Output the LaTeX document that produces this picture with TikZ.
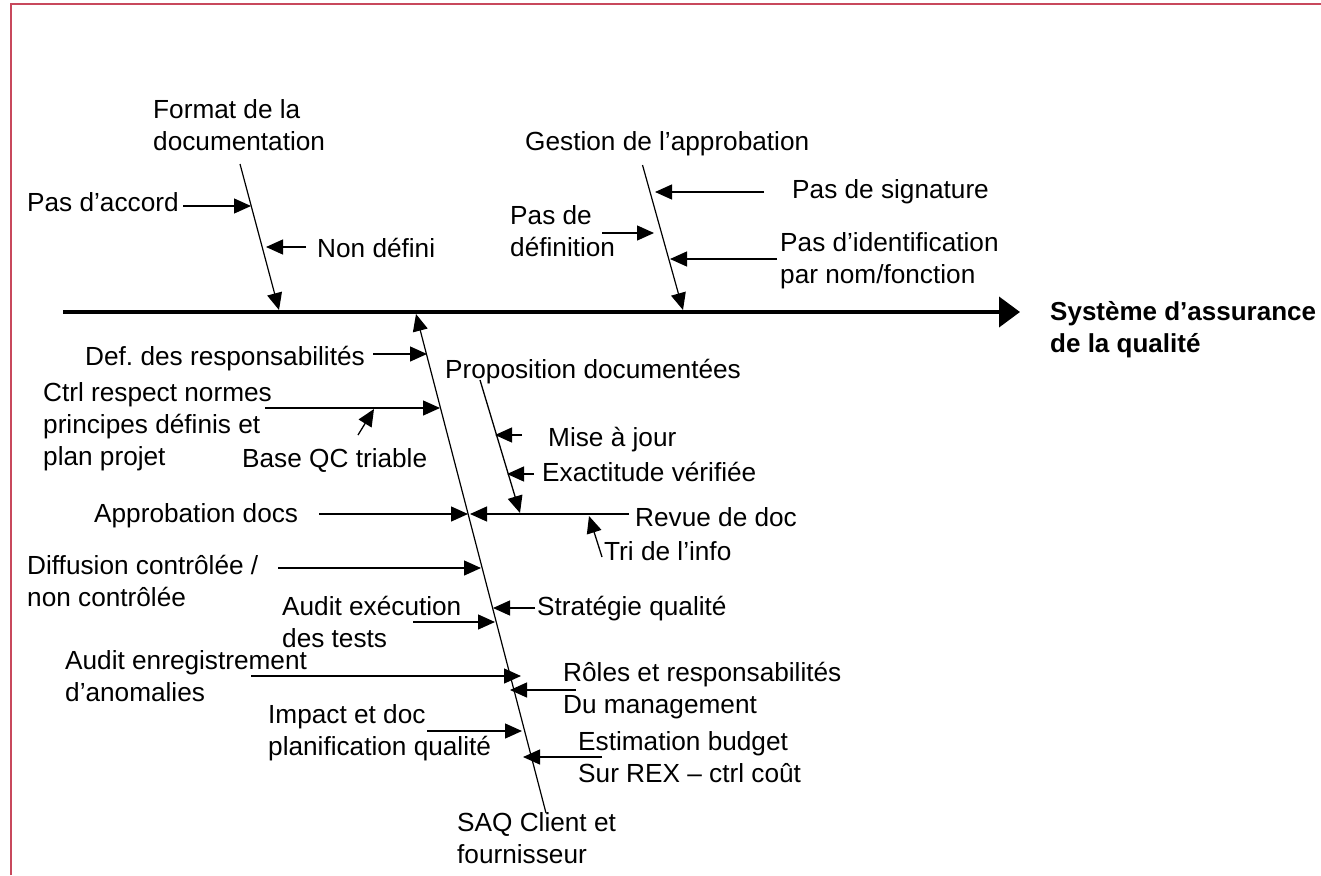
\documentclass[tikz,border=0pt]{standalone}
\usepackage{fontspec}
\setmainfont{Liberation Sans}
\usetikzlibrary{arrows.meta}
\definecolor{framered}{RGB}{200,72,92}
\frenchspacing
\tikzset{
  lbl/.style={anchor=base west, inner sep=0pt, align=left, font=\fontsize{26.2}{32}\selectfont},
  ttl/.style={anchor=base west, inner sep=0pt, align=left, font=\fontsize{26}{32}\selectfont\bfseries},
  bonearr/.style={line width=1.2pt, -{Triangle[length=17pt,width=15pt]}},
  cause/.style={line width=1.3pt, -{Triangle[length=17pt,width=15pt]}},
  spineline/.style={line width=4pt, -{Triangle[length=21pt,width=30pt]}},
}
\begin{document}
% multi-line labels are placed by the baseline of their last line
\begin{tikzpicture}[x=1pt,y=-1pt]
\useasboundingbox (0,0) rectangle (1321,875);
\fill[white] (0,0) rectangle (1321,875);
% frame
\draw[framered, line width=2pt] (10.7,875) -- (10.7,4.3) -- (1321,4.3);

% spine
\coordinate (spineL) at (63,312);
\coordinate (spineR) at (1020,312);
\draw[spineline] (spineL) -- (spineR);
\node[ttl] (effect) at (1050,352) {Système d’assurance\\de la qualité};

% bone A : format de la documentation
\node[lbl] (fmt) at (153,150) {Format de la\\documentation};
\coordinate (A1) at (240,164);
\coordinate (A2) at (279,310);
\draw[bonearr] (A1) -- (A2);
\node[lbl] (accord) at (27,211) {Pas d’accord};
\coordinate (accS) at (183,206); \coordinate (accE) at (251,206);
\draw[cause] (accS) -- (accE);
\node[lbl] (nondef) at (317,257) {Non défini};
\coordinate (ndS) at (306,247); \coordinate (ndE) at (266,247);
\draw[cause] (ndS) -- (ndE);

% bone B : gestion de l'approbation
\node[lbl] (gest) at (525,150) {Gestion de l’approbation};
\coordinate (B1) at (642.5,165);
\coordinate (B2) at (683,310);
\draw[bonearr] (B1) -- (B2);
\node[lbl] (sign) at (792,198) {Pas de signature};
\coordinate (sgS) at (764,192); \coordinate (sgE) at (655,192);
\draw[cause] (sgS) -- (sgE);
\node[lbl] (pdef) at (510,256) {Pas de\\définition};
\coordinate (pdS) at (602,233); \coordinate (pdE) at (654,233);
\draw[cause] (pdS) -- (pdE);
\node[lbl] (ident) at (780,283) {Pas d’identification\\par nom/fonction};
\coordinate (idS) at (777,259); \coordinate (idE) at (670,259);
\draw[cause] (idS) -- (idE);

% bottom bone : SAQ client et fournisseur
\node[lbl] (saq) at (457,863) {SAQ Client et\\fournisseur};
\coordinate (C1) at (546,813);
\coordinate (C2) at (416,314);
\draw[bonearr] (C1) -- (C2);

\node[lbl] (defresp) at (85,365) {Def. des responsabilités};
\coordinate (drS) at (373,354); \coordinate (drE) at (427,354);
\draw[cause] (drS) -- (drE);

\node[lbl] (ctrl) at (43,465) {Ctrl respect normes\\principes définis et\\plan projet};
\coordinate (ctS) at (265,408); \coordinate (ctE) at (440,408);
\draw[cause] (ctS) -- (ctE);
\node[lbl] (baseqc) at (242,467) {Base QC triable};
\coordinate (bqS) at (358,435); \coordinate (bqE) at (374,409);
\draw[cause] (bqS) -- (bqE);

\node[lbl] (approb) at (94,522) {Approbation docs};
\coordinate (apS) at (319,514); \coordinate (apE) at (468,514);
\draw[cause] (apS) -- (apE);

% sub-bone : revue de doc
\node[lbl] (revue) at (635,526) {Revue de doc};
\coordinate (rvS) at (629,514); \coordinate (rvE) at (470,514);
\draw[cause] (rvS) -- (rvE);
\node[lbl] (propo) at (445,378) {Proposition documentées};
\coordinate (ppS) at (480,380); \coordinate (ppE) at (520,513);
\draw[cause] (ppS) -- (ppE);
\node[lbl] (maj) at (548,446) {Mise à jour};
\coordinate (mjS) at (522,435); \coordinate (mjE) at (495,435);
\draw[cause] (mjS) -- (mjE);
\node[lbl] (exact) at (542,481) {Exactitude vérifiée};
\coordinate (exS) at (534,474); \coordinate (exE) at (507,474);
\draw[cause] (exS) -- (exE);
\node[lbl] (tri) at (604,560) {Tri de l’info};
\coordinate (trS) at (602,557); \coordinate (trE) at (589,516);
\draw[cause] (trS) -- (trE);

\node[lbl] (diff) at (27,606) {Diffusion contrôlée /\\non contrôlée};
\coordinate (dfS) at (278,568); \coordinate (dfE) at (481,568);
\draw[cause] (dfS) -- (dfE);

\node[lbl] (auditexe) at (282,647) {Audit exécution\\des tests};
\coordinate (aeS) at (413,622); \coordinate (aeE) at (495,622);
\draw[cause] (aeS) -- (aeE);

\node[lbl] (strat) at (537,615) {Stratégie qualité};
\coordinate (stS) at (535,608); \coordinate (stE) at (493,608);
\draw[cause] (stS) -- (stE);

\node[lbl] (auditenr) at (65,701) {Audit enregistrement\\d’anomalies};
\coordinate (arS) at (251,676); \coordinate (arE) at (521,676);
\draw[cause] (arS) -- (arE);

\node[lbl] (roles) at (563,713) {Rôles et responsabilités\\Du management};
\coordinate (roS) at (576,690); \coordinate (roE) at (510,690);
\draw[cause] (roS) -- (roE);

\node[lbl] (impact) at (268,755) {Impact et doc\\planification qualité};
\coordinate (imS) at (427,731); \coordinate (imE) at (522,731);
\draw[cause] (imS) -- (imE);

\node[lbl] (estim) at (578,782) {Estimation budget\\Sur REX – ctrl coût};
\coordinate (esS) at (602,757); \coordinate (esE) at (523,757);
\draw[cause] (esS) -- (esE);
\end{tikzpicture}
\end{document}
